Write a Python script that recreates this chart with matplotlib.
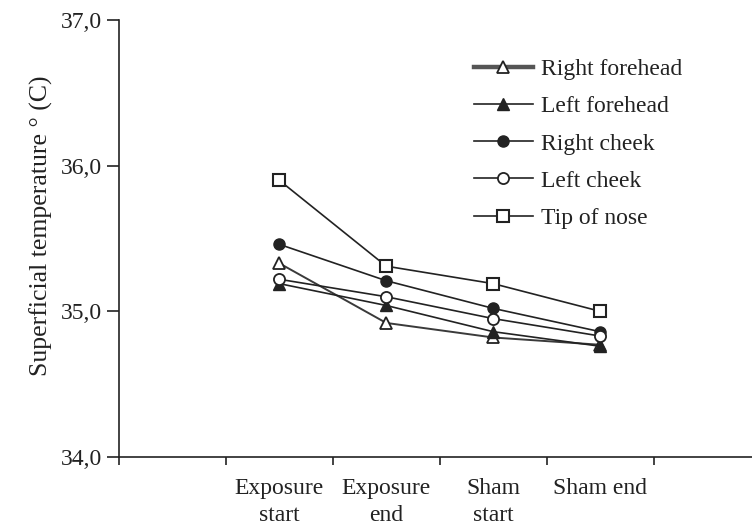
import matplotlib.pyplot as plt
from matplotlib.ticker import FixedLocator, FuncFormatter

# mean superficial temperature per site at each time point
phases = ['Exposure\nstart', 'Exposure\nend', 'Sham\nstart', 'Sham end']
right_forehead = [35.33, 34.92, 34.82, 34.77]
left_forehead = [35.19, 35.04, 34.86, 34.76]
right_cheek = [35.46, 35.21, 35.02, 34.86]
left_cheek = [35.22, 35.10, 34.95, 34.83]
tip_of_nose = [35.90, 35.31, 35.19, 35.00]

plt.rcParams['font.family'] = ['Liberation Serif', 'DejaVu Serif']
ink = '#222222'

fig = plt.figure(figsize=(7.52, 5.30), dpi=100)
ax = fig.add_axes([0.158, 0.138, 0.842, 0.824])

xs = [1.5, 2.5, 3.5, 4.5]
ax.plot(xs, right_forehead, color='#3a3a3a', lw=1.4, marker='^', ms=8,
        mfc='white', mec=ink, mew=1.3, label='Right forehead')
ax.plot(xs, left_forehead, color=ink, lw=1.2, marker='^', ms=8,
        mfc=ink, mec=ink, label='Left forehead')
ax.plot(xs, right_cheek, color=ink, lw=1.2, marker='o', ms=8,
        mfc=ink, mec=ink, label='Right cheek')
ax.plot(xs, left_cheek, color=ink, lw=1.2, marker='o', ms=8,
        mfc='white', mec=ink, mew=1.3, label='Left cheek')
ax.plot(xs, tip_of_nose, color=ink, lw=1.2, marker='s', ms=8,
        mfc='white', mec=ink, mew=1.5, label='Tip of nose')

ax.set_xlim(0, 5.92)
ax.set_ylim(34.0, 37.0)
ax.set_yticks([34.0, 35.0, 36.0, 37.0])
ax.yaxis.set_major_formatter(FuncFormatter(lambda v, p: f'{v:.1f}'.replace('.', ',')))

# tick marks on the boundaries, labels centred between them
ax.xaxis.set_major_locator(FixedLocator([0, 1, 2, 3, 4, 5]))
ax.xaxis.set_minor_locator(FixedLocator(xs))
ax.xaxis.set_major_formatter(FuncFormatter(lambda v, p: ''))
ax.set_xticklabels(phases, minor=True, linespacing=1.4)
ax.tick_params(axis='x', which='major', direction='out', length=6, width=1.2, color=ink)
ax.tick_params(axis='x', which='minor', length=0, pad=15, labelsize=17, labelcolor=ink)
ax.tick_params(axis='y', direction='out', length=9, width=1.2, color=ink,
               labelsize=17, labelcolor=ink, pad=3)

for side in ['top', 'right']:
    ax.spines[side].set_visible(False)
for side in ['left', 'bottom']:
    ax.spines[side].set_linewidth(1.2)
    ax.spines[side].set_color(ink)

ax.set_ylabel('Superficial temperature ° (C)', fontsize=18.5, color=ink)
ax.yaxis.set_label_coords(-0.104, 0.53)

leg = ax.legend(loc='upper left', bbox_to_anchor=(0.527, 0.96), frameon=False,
                fontsize=17, handlelength=2.5, handletextpad=0.35, labelspacing=0.66)
for t in leg.get_texts():
    t.set_color(ink)
leg.get_lines()[0].set_linewidth(3.2)
leg.get_lines()[0].set_color('#555555')

fig.savefig('out.png', dpi=100)
